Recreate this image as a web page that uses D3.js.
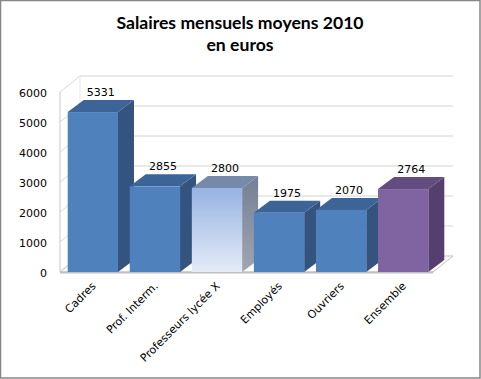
<!DOCTYPE html>
<html><head><meta charset="utf-8">
<script src="https://cdn.jsdelivr.net/npm/d3@7"></script>
<style>body{margin:0;background:#fff}svg{display:block}</style>
</head><body>
<script>
const categories = ["Cadres","Prof. Interm.","Professeurs lycée X","Employés","Ouvriers","Ensemble"];
const values = [5331,2855,2800,1975,2070,2764];
const colorKinds = ["blue","blue","grad","blue","blue","purple"];
const tickValues = [0,1000,2000,3000,4000,5000,6000];
const titleLines = ["Salaires mensuels moyens 2010","en euros"];

const W=481,H=379;
const svg=d3.select("body").append("svg").attr("width",W).attr("height",H);
const defs=svg.append("defs");
const gF=defs.append("linearGradient").attr("id","gFront").attr("x1",0).attr("y1",0).attr("x2",0).attr("y2",1);
gF.append("stop").attr("offset","0%").attr("stop-color","#97B3E2");
gF.append("stop").attr("offset","100%").attr("stop-color","#E4EBF7");
const gS=defs.append("linearGradient").attr("id","gSide").attr("x1",0).attr("y1",0).attr("x2",0).attr("y2",1);
gS.append("stop").attr("offset","0%").attr("stop-color","#737F96");
gS.append("stop").attr("offset","100%").attr("stop-color","#A0A6B0");

const pal={
  blue:{front:"#4F81BD",top:"#3C6496",side:"#34547F"},
  purple:{front:"#8064A2",top:"#634C7F",side:"#563F6E"},
  grad:{front:"url(#gFront)",top:"#7589AB",side:"url(#gSide)"}
};

svg.append("rect").attr("x",0.5).attr("y",0.5).attr("width",W-1.5).attr("height",H-1.5)
  .attr("fill","#fff").attr("stroke","#868686").attr("stroke-width",1.5);

// title
svg.append("g").selectAll("text").data(titleLines).join("text")
  .attr("x",240).attr("y",(d,i)=>29+i*22).attr("text-anchor","middle")
  .attr("font-family","Lato, 'Open Sans', sans-serif").attr("font-weight","bold")
  .attr("font-size",17.6).attr("fill","#000").text(d=>d);

const x0=60,x1=433,dX=20,dY=-16;
const y=d3.scaleLinear().domain([0,6000]).range([272,92]);
const x=d3.scaleBand().domain(categories).range([x0+1.5,x1+1.5]).paddingInner(0.19).paddingOuter(0.1);
const bdx=16,bdy=-12;

// back wall gridlines
const grid=svg.append("g");
grid.selectAll("line.g").data(tickValues.slice(1)).join("line")
  .attr("x1",x0+dX).attr("x2",x1+dX).attr("y1",d=>y(d)+dY).attr("y2",d=>y(d)+dY)
  .attr("stroke","#D4D4D4").attr("stroke-width",1);
// left wall gridlines
grid.selectAll("line.s").data(tickValues).join("line")
  .attr("x1",x0).attr("x2",x0+dX).attr("y1",d=>y(d)).attr("y2",d=>y(d)+dY)
  .attr("stroke","#D9D9D9");
grid.append("line").attr("x1",x0+dX).attr("x2",x0+dX).attr("y1",y(0)+dY).attr("y2",y(6000)+dY).attr("stroke","#E6E6E6");
grid.append("line").attr("x1",x0).attr("x2",x0).attr("y1",y(0)).attr("y2",y(6000)).attr("stroke","#C8C8C8");
// floor
grid.append("path").attr("d",`M${x0},${y(0)}L${x1},${y(0)}L${x1+dX},${y(0)+dY}L${x0+dX},${y(0)+dY}Z`)
  .attr("fill","#fff").attr("stroke","#BFBFBF").attr("stroke-width",1);
grid.append("line").attr("x1",x0).attr("x2",x1).attr("y1",y(0)+0.5).attr("y2",y(0)+0.5).attr("stroke","#BFBFBF").attr("stroke-width",2);

// tick labels
svg.append("g").selectAll("text").data(tickValues).join("text")
  .attr("x",47).attr("y",d=>y(d)+1).attr("dy","0.35em").attr("text-anchor","end")
  .attr("font-family","'DejaVu Sans', sans-serif").attr("font-size",11).attr("fill","#000").text(d=>d);

// bars
const bars=svg.append("g").selectAll("g").data(categories.map((c,i)=>({c,v:values[i],k:colorKinds[i]}))).join("g");
bars.each(function(d){
  const g=d3.select(this);
  const bx=x(d.c),bw=x.bandwidth(),yt=y(d.v),yb=y(0);
  const p=pal[d.k];
  g.append("path").attr("d",`M${bx+bw},${yt}L${bx+bw+bdx},${yt+bdy}L${bx+bw+bdx},${yb+bdy}L${bx+bw},${yb}Z`).attr("fill",p.side);
  g.append("path").attr("d",`M${bx},${yt}L${bx+bdx},${yt+bdy}L${bx+bw+bdx},${yt+bdy}L${bx+bw},${yt}Z`).attr("fill",p.top);
  g.append("rect").attr("x",bx).attr("y",yt).attr("width",bw).attr("height",yb-yt).attr("fill",p.front);
  g.append("text").attr("x",bx+bw/2+8).attr("y",yt+bdy-4).attr("text-anchor","middle")
    .attr("font-family","'DejaVu Sans', sans-serif").attr("font-size",11).attr("fill","#000").text(d.v);
});

// x labels
svg.append("g").selectAll("text").data(categories).join("text")
  .attr("transform",d=>`translate(${x(d)+x.bandwidth()/2+1},${284}) rotate(-45)`)
  .attr("text-anchor","end").attr("dy","0.35em")
  .attr("font-family","'DejaVu Sans', sans-serif").attr("font-size",11).attr("fill","#000").text(d=>d);
</script>
</body></html>
